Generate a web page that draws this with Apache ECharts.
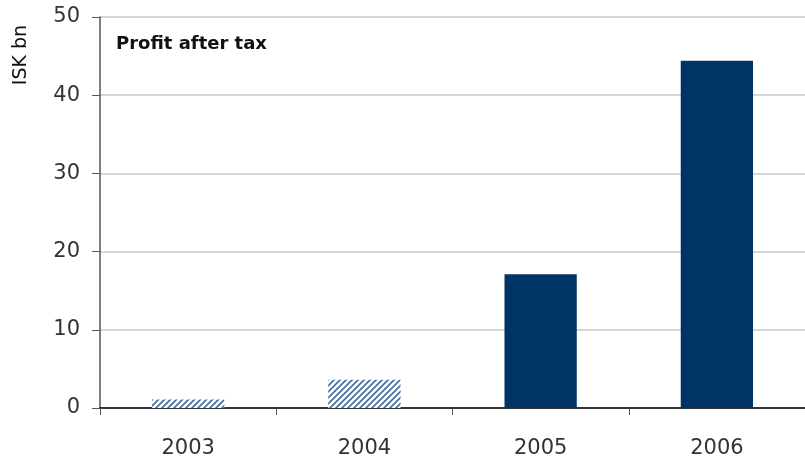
<!DOCTYPE html>
<html lang="en">
<head>
    <meta charset="UTF-8">
    <title>Profit after tax</title>
    <style>
        body { margin: 0; background: #fff; }
        #chart { width: 805px; height: 460px; }
    </style>
    <script src="https://cdn.jsdelivr.net/npm/echarts@6/dist/echarts.min.js"></script>
</head>
<body>
<div id="chart"></div>
<script>
    const years = ['2003', '2004', '2005', '2006'];
    const profit = [1.1, 3.6, 17.1, 44.4];
    const hatched = [true, true, false, false]; // early years drawn with stripes

    // small diagonal stripe tile for the hatched bars
    function stripeTile() {
        const c = document.createElement('canvas');
        c.width = 6; c.height = 6;
        const ctx = c.getContext('2d');
        ctx.fillStyle = '#fff';
        ctx.fillRect(0, 0, 6, 6);
        ctx.strokeStyle = '#3f6c9e';
        ctx.lineWidth = 1.6;
        ctx.beginPath();
        ctx.moveTo(-1, 7); ctx.lineTo(7, -1);
        ctx.moveTo(-4, 4); ctx.lineTo(4, -4);
        ctx.moveTo(2, 10); ctx.lineTo(10, 2);
        ctx.stroke();
        return c;
    }
    const stripes = { image: stripeTile(), repeat: 'repeat' };

    const font = 'DejaVu Sans, Verdana, sans-serif';
    const chart = echarts.init(document.getElementById('chart'));
    chart.setOption({
        animation: false,
        textStyle: { fontFamily: font },
        grid: { left: 100, top: 17, width: 709, height: 391 },
        graphic: [
            {
                type: 'text', left: 116, top: 35,
                style: { text: 'Profit after tax', font: 'bold 18px DejaVu Sans', fill: '#111' }
            },
            {
                type: 'text', x: 21, y: 55, rotation: Math.PI / 2,
                style: {
                    text: 'ISK bn', font: '19px DejaVu Sans', fill: '#111',
                    align: 'center', verticalAlign: 'middle'
                }
            }
        ],
        xAxis: {
            type: 'category',
            data: years,
            axisLine: { lineStyle: { color: '#000', width: 1.5 } },
            axisTick: { show: true, length: 7, lineStyle: { color: '#555' } },
            axisLabel: { color: '#333', fontSize: 21, margin: 30 }
        },
        yAxis: {
            type: 'value',
            min: 0, max: 50, interval: 10,
            axisLine: { show: true, lineStyle: { color: '#555', width: 1.5 } },
            axisTick: { show: true, length: 8, lineStyle: { color: '#555' } },
            axisLabel: { color: '#333', fontSize: 21, margin: 20 },
            splitLine: { lineStyle: { color: '#c8c8c8', width: 1.5 } }
        },
        series: [{
            type: 'bar',
            barWidth: '41%',
            data: profit.map((v, i) => ({
                value: v,
                itemStyle: { color: hatched[i] ? stripes : '#003366' }
            }))
        }]
    });
</script>
</body>
</html>
